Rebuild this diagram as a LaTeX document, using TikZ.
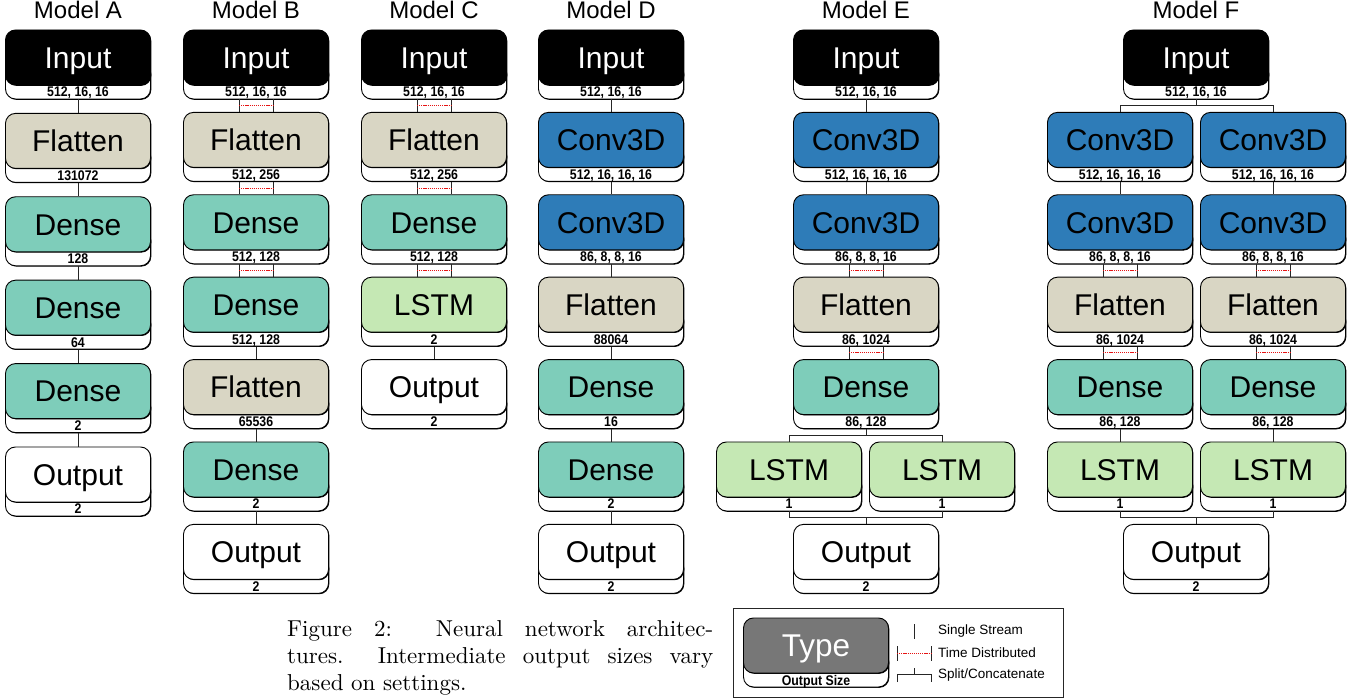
\documentclass[tikz,border=0pt]{standalone}
\usepackage{fontspec}
\newfontfamily\hv{Liberation Sans}
\newfontfamily\capf{lmroman10-regular}[Extension=.otf]
\usetikzlibrary{calc,shadows}
\definecolor{flatc}{RGB}{217,214,196}
\definecolor{densec}{RGB}{126,205,186}
\definecolor{convc}{RGB}{46,124,184}
\definecolor{lstmc}{RGB}{197,232,180}
\definecolor{typec}{RGB}{119,119,119}
\definecolor{tdred}{RGB}{230,20,20}
\newcommand\lyr[6]{%
  \node[tabbox] (#1-t) at (#2,#3+23.5) {\raisebox{-16pt}[0pt][0pt]{\scalebox{0.88}[1]{#6}}};
  \node[#4] (#1) at (#2,#3) {#5};}
\newcommand\sconn[2]{\draw[conn] (#1-t.south) -- (#2.north);}
\newcommand\tconn[2]{%
  \draw[conn] ([xshift=-17pt]#1-t.south) -- ([xshift=-17pt]#2.north);
  \draw[conn] ([xshift=17pt]#1-t.south) -- ([xshift=17pt]#2.north);
  \draw[tdl] ($([xshift=-17pt]#1-t.south)!.5!([xshift=-17pt]#2.north)$) -- ($([xshift=17pt]#1-t.south)!.5!([xshift=17pt]#2.north)$);}
\newcommand\splitc[3]{%
  \coordinate (#1-m) at ($(#1-t.south)!.5!(#2.north -| #1-t.south)$);
  \draw[conn] (#1-t.south) -- (#1-m);
  \draw[conn] (#2.north) |- (#1-m) -| (#3.north);}
\newcommand\concatc[3]{%
  \coordinate (#3-m) at ($(#3.north)!.5!(#1-t.south -| #3.north)$);
  \draw[conn] (#1-t.south) |- (#3-m) -| (#2-t.south);
  \draw[conn] (#3-m) -- (#3.north);}
\tikzset{
  lyrbox/.style={draw=black, line width=0.9pt, rounded corners=10pt, minimum width=145pt, minimum height=55pt, inner sep=0pt,
    text height=21.5pt, text depth=0pt,
    font=\hv\fontsize{30}{30}\selectfont, drop shadow={shadow xshift=0.8pt, shadow yshift=-0.8pt, opacity=1, fill=black}},
  inp/.style={lyrbox, fill=black, text=white},
  flat/.style={lyrbox, fill=flatc},
  dense/.style={lyrbox, fill=densec},
  conv/.style={lyrbox, fill=convc},
  lstm/.style={lyrbox, fill=lstmc},
  outp/.style={lyrbox, fill=white},
  typebox/.style={lyrbox, fill=typec, text=white, text height=22.5pt, font=\hv\fontsize{31.5}{31.5}\selectfont},
  tabbox/.style={draw=black, line width=0.9pt, rounded corners=10pt, minimum width=145pt, minimum height=36pt, inner sep=0pt, fill=white,
    font=\hv\bfseries\fontsize{14}{14}\selectfont, drop shadow={shadow xshift=0.8pt, shadow yshift=-0.8pt, opacity=1, fill=black}},
  conn/.style={line width=0.9pt, black!85},
  tdl/.style={tdred, dash pattern=on 1.2pt off 0.9pt, line width=0.8pt},
  title/.style={font=\hv\fontsize{24}{24}\selectfont, inner sep=0pt, anchor=base},
  legtext/.style={font=\hv\fontsize{13.5}{13.5}\selectfont, anchor=west, inner sep=0pt},
  captext/.style={font=\capf\fontsize{23}{27}\selectfont, anchor=base west, inner sep=0pt},
}
\begin{document}
\begin{tikzpicture}[x=1pt,y=-1pt]
\useasboundingbox (0,0) rectangle (1353,700);
% titles
\node[title] (tA) at (78,19) {Model A};
\node[title] (tB) at (256,19) {Model B};
\node[title] (tC) at (434,19) {Model C};
\node[title] (tD) at (611,19) {Model D};
\node[title] (tE) at (866,19) {Model E};
\node[title] (tF) at (1196,19) {Model F};
% Model A
\lyr{a1}{78}{57.5}{inp}{Input}{512, 16, 16}
\lyr{a2}{78}{140.9}{flat}{Flatten}{131072}
\lyr{a3}{78}{224.3}{dense}{Dense}{128}
\lyr{a4}{78}{307.7}{dense}{Dense}{64}
\lyr{a5}{78}{391.1}{dense}{Dense}{2}
\lyr{a6}{78}{474.5}{outp}{Output}{2}
\sconn{a1}{a2}\sconn{a2}{a3}\sconn{a3}{a4}\sconn{a4}{a5}\sconn{a5}{a6}
% Model B
\lyr{b1}{256}{57.5}{inp}{Input}{512, 16, 16}
\lyr{b2}{256}{139.9}{flat}{Flatten}{512, 256}
\lyr{b3}{256}{222.3}{dense}{Dense}{512, 128}
\lyr{b4}{256}{304.7}{dense}{Dense}{512, 128}
\lyr{b5}{256}{387.1}{flat}{Flatten}{65536}
\lyr{b6}{256}{469.5}{dense}{Dense}{2}
\lyr{b7}{256}{551.9}{outp}{Output}{2}
\tconn{b1}{b2}\tconn{b2}{b3}\tconn{b3}{b4}\sconn{b4}{b5}\sconn{b5}{b6}\sconn{b6}{b7}
% Model C
\lyr{c1}{434}{57.5}{inp}{Input}{512, 16, 16}
\lyr{c2}{434}{139.9}{flat}{Flatten}{512, 256}
\lyr{c3}{434}{222.3}{dense}{Dense}{512, 128}
\lyr{c4}{434}{304.7}{lstm}{LSTM}{2}
\lyr{c5}{434}{387.1}{outp}{Output}{2}
\tconn{c1}{c2}\tconn{c2}{c3}\tconn{c3}{c4}\sconn{c4}{c5}
% Model D
\lyr{d1}{611}{57.5}{inp}{Input}{512, 16, 16}
\lyr{d2}{611}{139.9}{conv}{Conv3D}{512, 16, 16, 16}
\lyr{d3}{611}{222.3}{conv}{Conv3D}{86, 8, 8, 16}
\lyr{d4}{611}{304.7}{flat}{Flatten}{88064}
\lyr{d5}{611}{387.1}{dense}{Dense}{16}
\lyr{d6}{611}{469.5}{dense}{Dense}{2}
\lyr{d7}{611}{551.9}{outp}{Output}{2}
\sconn{d1}{d2}\sconn{d2}{d3}\sconn{d3}{d4}\sconn{d4}{d5}\sconn{d5}{d6}\sconn{d6}{d7}
% Model E
\lyr{e1}{866}{57.5}{inp}{Input}{512, 16, 16}
\lyr{e2}{866}{139.9}{conv}{Conv3D}{512, 16, 16, 16}
\lyr{e3}{866}{222.3}{conv}{Conv3D}{86, 8, 8, 16}
\lyr{e4}{866}{304.7}{flat}{Flatten}{86, 1024}
\lyr{e5}{866}{387.1}{dense}{Dense}{86, 128}
\lyr{e6}{789}{469.5}{lstm}{LSTM}{1}
\lyr{e7}{942}{469.5}{lstm}{LSTM}{1}
\lyr{e8}{866}{551.9}{outp}{Output}{2}
\sconn{e1}{e2}\sconn{e2}{e3}\tconn{e3}{e4}\tconn{e4}{e5}
\splitc{e5}{e6}{e7}
\concatc{e6}{e7}{e8}
% Model F
\lyr{f1}{1196}{57.5}{inp}{Input}{512, 16, 16}
\lyr{f2}{1120}{139.9}{conv}{Conv3D}{512, 16, 16, 16}
\lyr{f3}{1120}{222.3}{conv}{Conv3D}{86, 8, 8, 16}
\lyr{f4}{1120}{304.7}{flat}{Flatten}{86, 1024}
\lyr{f5}{1120}{387.1}{dense}{Dense}{86, 128}
\lyr{f6}{1120}{469.5}{lstm}{LSTM}{1}
\lyr{g2}{1273}{139.9}{conv}{Conv3D}{512, 16, 16, 16}
\lyr{g3}{1273}{222.3}{conv}{Conv3D}{86, 8, 8, 16}
\lyr{g4}{1273}{304.7}{flat}{Flatten}{86, 1024}
\lyr{g5}{1273}{387.1}{dense}{Dense}{86, 128}
\lyr{g6}{1273}{469.5}{lstm}{LSTM}{1}
\lyr{f7}{1196}{551.9}{outp}{Output}{2}
\splitc{f1}{f2}{g2}
\sconn{f2}{f3}\tconn{f3}{f4}\tconn{f4}{f5}\sconn{f5}{f6}
\sconn{g2}{g3}\tconn{g3}{g4}\tconn{g4}{g5}\sconn{g5}{g6}
\concatc{f6}{g6}{f7}
% caption
\node[captext] (cap1) at (287,636) {\makebox[426pt][s]{Figure 2:\ \ Neural network architec-}};
\node[captext] (cap2) at (287,663) {\makebox[426pt][s]{tures.\ \ Intermediate output sizes vary}};
\node[captext] (cap3) at (287,690) {based on settings.};
% legend
\draw[line width=0.9pt, black!85] (733,608) rectangle (1063,697);
\lyr{lg}{816}{645.5}{typebox}{Type}{Output Size}
\draw[conn] (914,624) -- (914,639);
\node[legtext] (l1) at (938,631) {Single Stream};
\draw[conn] (897,646) -- (897,661);
\draw[conn] (931,646) -- (931,661);
\draw[tdl] (897,653.5) -- (931,653.5);
\node[legtext] (l2) at (938,653) {Time Distributed};
\draw[conn] (897,682) |- (931,674) -- (931,682);
\draw[conn] (914,668) -- (914,674);
\node[legtext] (l3) at (938,675) {Split/Concatenate};
\end{tikzpicture}
\end{document}
